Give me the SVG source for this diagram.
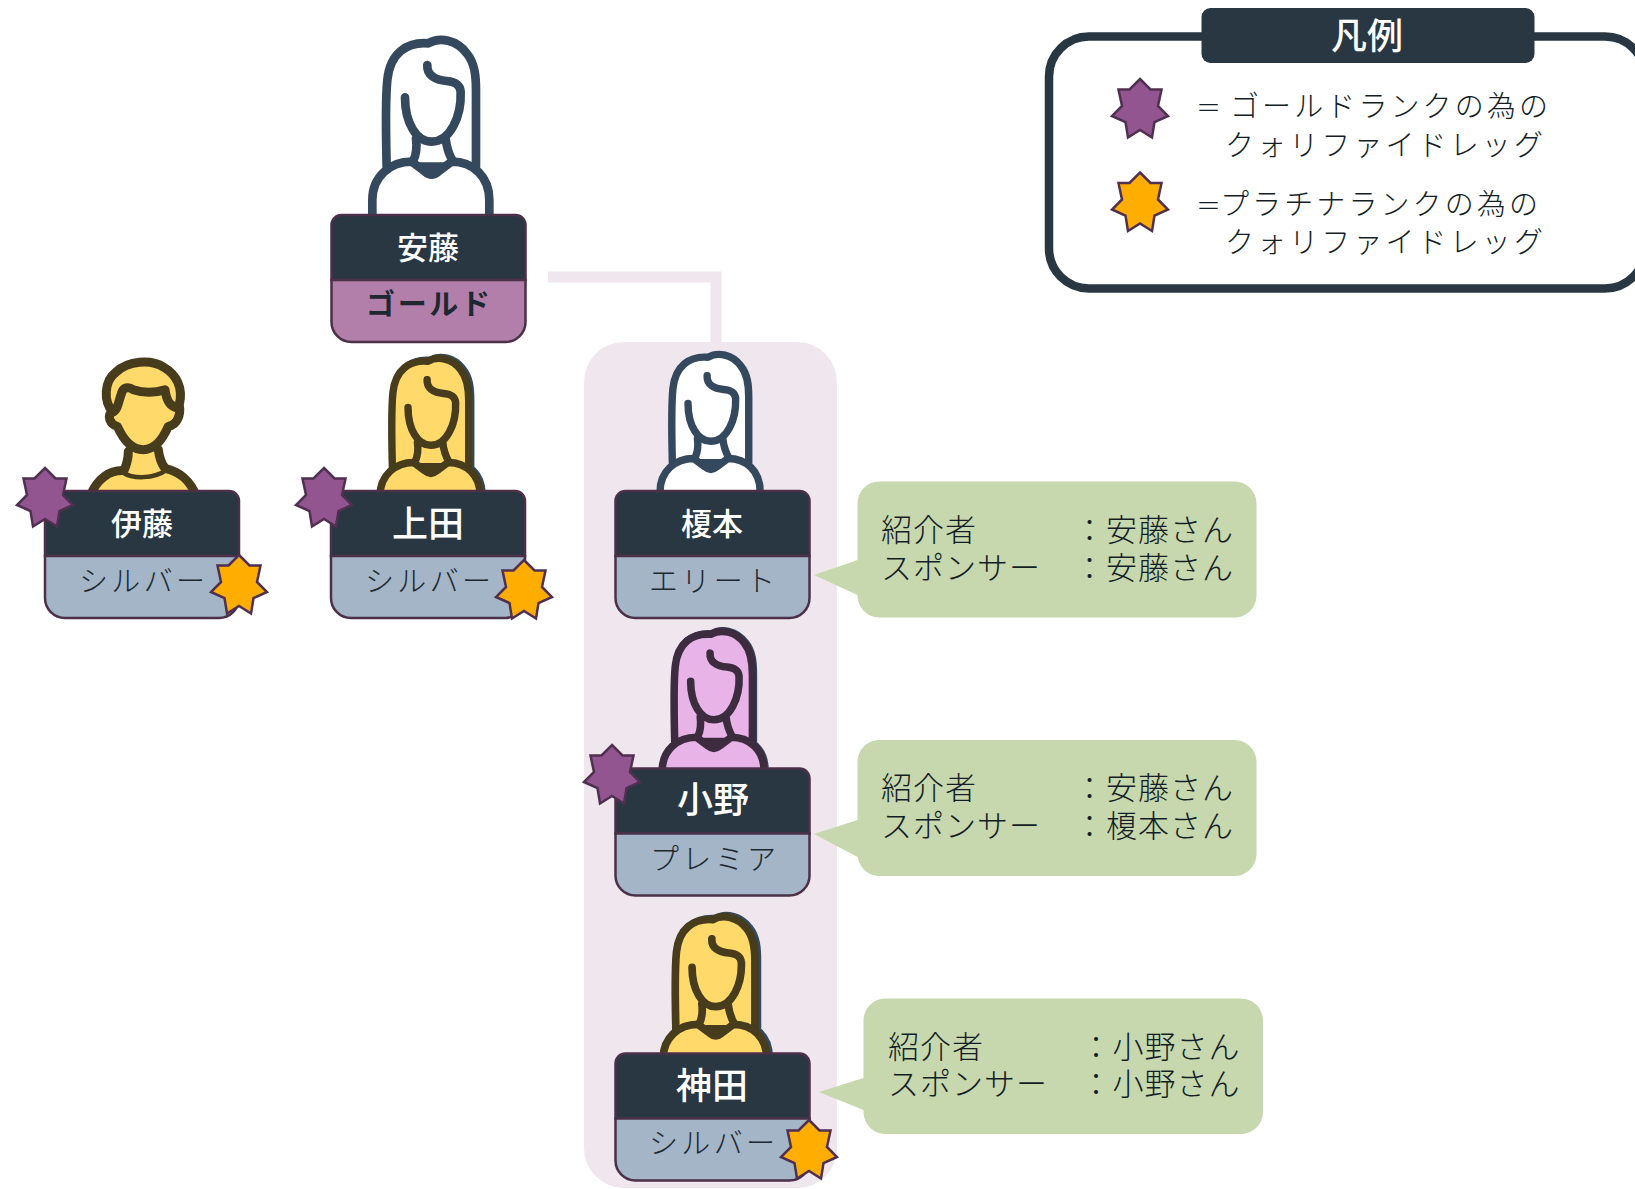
<svg xmlns="http://www.w3.org/2000/svg" width="1635" height="1189" viewBox="0 0 1635 1189">
<style>
text{font-family:"Noto Sans CJK JP","Noto Sans CJK SC",sans-serif;}
.name{fill:#fff;font-weight:500;text-anchor:middle;font-size:31px}
.big{font-size:36px}
.rank{fill:#1d2831;font-weight:300;text-anchor:middle;font-size:29px}
.info{fill:#141e26;font-weight:300;font-size:31px;letter-spacing:1px}
.leg{fill:#141e26;font-weight:300;font-size:29px;letter-spacing:3.1px}
.eq{fill:#141e26;font-weight:300;font-size:25px}
.head{fill:#283742;stroke:#4b3048;stroke-width:2.5}
.body{stroke:#4b3048;stroke-width:2.5}
.silver{fill:#a3b5c6}.gold{fill:#b17fa9}
.star{stroke:#4f3050;stroke-width:2.5;stroke-linejoin:miter}
.sp{fill:#925590}.so{fill:#ffae00}
.w{stroke-width:26;stroke-linecap:round;stroke-linejoin:round}
.white{fill:#fff;stroke:#34495e}
.yellow{fill:#ffd96a;stroke:#473c1c;stroke-width:29}
.pink{fill:#e8b4e8;stroke:#3d2c40;stroke-width:29}
.halo{fill:none;stroke:#34495e;stroke-width:29}
.bubble{fill:#c7d8ae}
</style>
<defs>
<g id="woman" class="w">
<path d="M230 440C228 350 225 250 232 180C240 100 290 65 355 70C390 50 440 60 470 100C495 130 498 170 498 210L498 440Z"/>
<path d="M187 600L187 540C187 470 240 425 305 425L345 455C358 466 372 466 385 455L425 425C490 425 538 470 538 540L538 600Z"/>
<path fill="none" d="M285 232C285 310 320 365 365 365C420 365 455 290 452 215C450 190 430 185 410 183C375 180 350 165 352 135M318 355C322 385 318 405 310 422M407 355C410 385 418 405 428 422"/>
</g>
<path id="card-head" class="head" d="M0 65V10A10 10 0 0 1 10 0H184A10 10 0 0 1 194 10V65Z"/>
<path id="card-body" d="M0 65H194V107A20 20 0 0 1 174 127H20A20 20 0 0 1 0 107Z"/>
<polygon id="star" points="0,-30 10.500,-19.500 21.500,-19.500 18,-3 28,7 14.500,13 12,28.500 0,21 -12,28.500 -14.500,13 -28,7 -18,-3 -21.500,-19.500 -10.500,-19.500"/>
</defs>

<rect id="group-bg" x="584" y="342" width="253" height="846" rx="40" fill="#f0e6ee"/>
<g id="connectors"><path d="M548 277H716V342" fill="none" stroke="#f0e6ee" stroke-width="11"/></g>

<g id="node-ando">
<use href="#woman" class="white" transform="translate(310 20) scale(.3333)"/>
<use href="#card-head" x="331.500" y="215"/><use href="#card-body" class="body gold" x="331.500" y="215"/>
<text class="name" x="428" y="259">安藤</text>
<text class="rank" x="428" y="315" style="font-weight:700" textLength="124">ゴールド</text>
</g>

<g id="node-ito">
<g fill="#ffd96a" stroke="#473c1c" stroke-width="27" stroke-linecap="round" stroke-linejoin="round" transform="translate(0 338) scale(.3333)">
<path d="M270 476C290 421 330 396 372 398C400 416 460 416 495 391C540 401 570 426 590 476Z"/>
<path d="M385 335L372 398C400 416 460 416 495 391L475 330Z" stroke="none"/>
<path d="M338 222C310 190 312 130 347 103C385 68 452 63 492 88C530 110 550 150 538 200C543 230 533 260 505 265C490 300 465 335 430 335C395 335 370 305 352 265C330 260 318 230 338 222Z"/>
<path fill="none" d="M338 222C355 215 355 190 365 165C370 148 385 145 400 155C430 165 465 165 495 155C500 190 510 205 534 210M385 340C385 360 380 380 372 398M475 335C478 360 485 378 495 391"/>
</g>
<use href="#card-head" x="45" y="491"/><use href="#card-body" class="body silver" x="45" y="491"/>
<text class="name" x="142" y="535">伊藤</text>
<text class="rank" x="142" y="592" textLength="126">シルバー</text>
<use href="#star" class="star sp" x="45" y="498"/><use href="#star" class="star so" x="239" y="585"/>
</g>

<g id="node-ueda">
<use href="#woman" class="halo" transform="translate(328.800 340.300) scale(.285)"/>
<use href="#woman" class="yellow" transform="translate(326.800 341.300) scale(.285)"/>
<use href="#card-head" x="331" y="491"/><use href="#card-body" class="body silver" x="331" y="491"/>
<text class="name big" x="428" y="537">上田</text>
<text class="rank" x="428" y="592" textLength="126">シルバー</text>
<use href="#star" class="star sp" x="324" y="498"/><use href="#star" class="star so" x="524" y="590"/>
</g>

<g id="node-enomoto">
<use href="#woman" class="white" transform="translate(606.800 337.300) scale(.285)"/>
<use href="#card-head" x="615.500" y="491"/><use href="#card-body" class="body silver" x="615.500" y="491"/>
<text class="name" x="712" y="535">榎本</text>
<text class="rank" x="712" y="592" textLength="126">エリート</text>
</g>

<g id="node-ono">
<use href="#woman" class="halo" transform="translate(609 613.500) scale(.29)"/>
<use href="#woman" class="pink" transform="translate(608 614) scale(.29)"/>
<use href="#card-head" x="615.500" y="768.500"/><use href="#card-body" class="body silver" x="615.500" y="768.500"/>
<text class="name big" x="713" y="813">小野</text>
<text class="rank" x="713" y="870" textLength="126">プレミア</text>
<use href="#star" class="star sp" x="612" y="775"/>
</g>

<g id="node-kanda">
<use href="#woman" class="halo" transform="translate(610.500 898) scale(.295)"/>
<use href="#woman" class="yellow" transform="translate(608 899) scale(.295)"/>
<use href="#card-head" x="615.500" y="1053.500"/><use href="#card-body" class="body silver" x="615.500" y="1053.500"/>
<text class="name big" x="712" y="1099">神田</text>
<text class="rank" x="712" y="1154" textLength="126">シルバー</text>
<use href="#star" class="star so" x="809" y="1150"/>
</g>

<g id="note-enomoto">
<path class="bubble" d="M857.500 560V504A22 22 0 0 1 879 481.500H1234A22 22 0 0 1 1256.500 504V595A22 22 0 0 1 1234 617.500H879A22 22 0 0 1 857.500 595L814 575Z"/>
<text class="info"><tspan x="881" y="541">紹介者</tspan><tspan x="881" y="578.500">スポンサー</tspan></text>
<text class="info"><tspan x="1074" y="541">：安藤さん</tspan><tspan x="1074" y="578.500">：安藤さん</tspan></text>
</g>
<g id="note-ono">
<path class="bubble" d="M857.500 820V762A22 22 0 0 1 879 740H1234A22 22 0 0 1 1256.500 762V854A22 22 0 0 1 1234 876H879A22 22 0 0 1 857.500 854V857L814 834Z"/>
<text class="info"><tspan x="881" y="799">紹介者</tspan><tspan x="881" y="837">スポンサー</tspan></text>
<text class="info"><tspan x="1074" y="799">：安藤さん</tspan><tspan x="1074" y="837">：榎本さん</tspan></text>
</g>
<g id="note-kanda">
<path class="bubble" d="M863.500 1078V1021A22 22 0 0 1 885 998.500H1241A22 22 0 0 1 1263 1021V1112A22 22 0 0 1 1241 1134H885A22 22 0 0 1 863.500 1112V1110L819 1092Z"/>
<text class="info"><tspan x="888" y="1057.500">紹介者</tspan><tspan x="888" y="1095">スポンサー</tspan></text>
<text class="info"><tspan x="1080.500" y="1057.500">：小野さん</tspan><tspan x="1080.500" y="1095">：小野さん</tspan></text>
</g>

<g id="legend">
<rect x="1049" y="36.500" width="596" height="252" rx="40" fill="#fff" stroke="#283742" stroke-width="8.500"/>
<rect x="1201.500" y="8" width="333" height="55" rx="9" fill="#283742"/>
<text x="1367" y="49" text-anchor="middle" fill="#fff" font-size="36" font-weight="500">凡例</text>
<use href="#star" class="star sp" x="1140" y="109"/>
<use href="#star" class="star so" x="1140" y="202.500"/>
<text class="eq" x="1196" y="117">＝</text>
<text class="eq" x="1196" y="215">＝</text>
<text class="leg"><tspan x="1230" y="117">ゴールドランクの為の</tspan><tspan x="1225" y="156">クォリファイドレッグ</tspan></text>
<text class="leg"><tspan x="1220" y="215">プラチナランクの為の</tspan><tspan x="1225" y="253">クォリファイドレッグ</tspan></text>
</g>
</svg>
